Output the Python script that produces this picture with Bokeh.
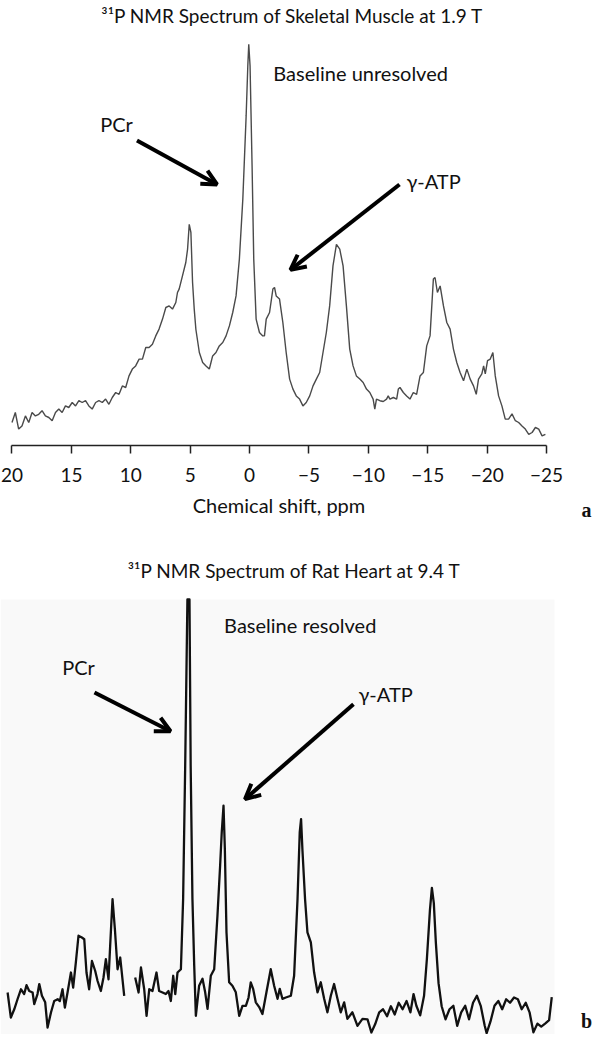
from bokeh.plotting import figure
from bokeh.models import Range1d, FixedTicker, Label, Arrow, OpenHead, LinearAxis, BoxAnnotation
from bokeh.layouts import column
from bokeh.embed import file_html
from bokeh.resources import INLINE

NAN = float("nan")

# ---------------- data: panel a (skeletal muscle, 1.9 T) ----------------
ticks_a = [20, 15, 10, 5, 0, -5, -10, -15, -20, -25]
tick_labels_a = ["20", "15", "10", "5", "0", "\u22125", "\u221210", "\u221215", "\u221220", "\u221225"]

ppm_a = [
    20.0, 19.72, 19.44, 19.16, 18.87, 18.59, 18.31, 18.03, 17.75, 17.47,
    17.19, 16.9, 16.62, 16.34, 16.06, 15.78, 15.5, 15.22, 14.93, 14.65,
    14.37, 14.09, 13.81, 13.53, 13.25, 12.96, 12.68, 12.4, 12.12, 11.84,
    11.56, 11.27, 10.99, 10.71, 10.43, 10.15, 9.87, 9.59, 9.3, 9.02,
    8.74, 8.46, 8.18, 7.9, 7.62, 7.33, 7.05, 6.77, 6.49, 6.21,
    6.07, 5.93, 5.65, 5.37, 5.22, 5.08, 4.94, 4.8, 4.66, 4.52,
    4.23, 3.95, 3.67, 3.39, 3.25, 3.11, 2.83, 2.55, 2.26, 1.98,
    1.7, 1.42, 1.14, 0.86, 0.57, 0.29, 0.15, 0.07, -0.04, -0.21,
    -0.35, -0.55, -0.83, -1.11, -1.25, -1.4, -1.68, -1.96, -2.1, -2.24,
    -2.52, -2.8, -3.08, -3.37, -3.65, -3.93, -4.21, -4.49, -4.77, -5.06,
    -5.34, -5.62, -5.9, -6.18, -6.46, -6.74, -7.02, -7.31, -7.59, -7.87,
    -8.15, -8.43, -8.71, -8.99, -9.28, -9.56, -9.84, -10.12, -10.4, -10.54,
    -10.68, -10.97, -11.25, -11.53, -11.67, -11.81, -12.1, -12.38, -12.52, -12.66,
    -12.94, -13.22, -13.5, -13.78, -14.06, -14.35, -14.63, -14.91, -15.19, -15.47,
    -15.61, -15.81, -16.04, -16.32, -16.6, -16.88, -17.16, -17.44, -17.72, -18.01,
    -18.29, -18.57, -18.85, -19.08, -19.27, -19.55, -19.7, -19.84, -20.03, -20.26,
    -20.48, -20.68, -20.96, -21.24, -21.52, -21.8, -22.09, -22.37, -22.65, -22.93,
    -23.21, -23.5, -23.78, -24.06, -24.34, -24.62, -24.9,
]
intensity_a = [
    5.75, 8.25, 4.1, 4.9, 7.4, 5.75, 8.25, 7.4, 7.8, 8.7,
    7.4, 7.0, 6.2, 8.25, 9.1, 8.25, 9.9, 9.5, 10.75, 9.9,
    11.2, 10.75, 11.2, 9.9, 9.1, 10.75, 11.2, 10.75, 11.6, 10.3,
    12.0, 13.25, 12.8, 14.9, 14.5, 17.4, 19.1, 19.9, 21.6, 21.6,
    24.5, 24.5, 25.3, 27.4, 29.1, 31.6, 34.5, 34.9, 34.1, 35.75,
    38.25, 39.1, 42.4, 45.75, 49.1, 55.3, 53.25, 40.75, 34.1, 29.0,
    23.25, 20.75, 19.9, 19.1, 20.75, 22.4, 23.25, 24.9, 25.75, 27.4,
    29.9, 33.25, 37.4, 46.6, 61.6, 82.4, 94.9, 100.3, 94.9, 69.9,
    46.6, 31.6, 28.25, 27.4, 27.4, 31.6, 33.25, 39.1, 39.5, 37.4,
    36.6, 30.75, 23.25, 16.6, 14.1, 12.4, 11.6, 9.9, 10.75, 12.4,
    14.9, 16.6, 18.25, 23.25, 28.25, 34.9, 44.9, 50.3, 49.1, 44.9,
    34.9, 24.1, 19.9, 17.4, 16.6, 15.75, 14.1, 13.25, 11.6, 9.1,
    11.6, 11.2, 11.0, 11.6, 12.4, 11.6, 12.0, 11.6, 14.1, 14.5,
    13.25, 12.4, 11.6, 13.25, 12.8, 17.4, 18.25, 24.9, 27.4, 41.6,
    42.0, 38.25, 39.9, 34.9, 30.75, 29.1, 24.1, 20.75, 18.25, 16.2,
    19.1, 16.6, 14.9, 12.8, 16.6, 17.9, 19.9, 17.9, 21.2, 21.6,
    23.25, 17.4, 12.4, 9.9, 6.6, 6.6, 7.9, 6.2, 5.75, 4.9,
    4.1, 2.8, 3.25, 4.5, 4.1, 2.4, 2.8,
]

# ---------------- data: panel b (rat heart, 9.4 T) ----------------
ppm_b = [
    12.27, 12.05, 11.82, 11.6, 11.37, 11.15, 10.99, 10.81, 10.58, 10.47,
    10.25, 10.13, 9.95, 9.73, 9.57, 9.34, 9.12, 8.89, 8.74, 8.56,
    8.4, 8.22, 7.99, 7.84, 7.66, 7.48, 7.25, 7.09, 6.94, 6.76,
    6.57, 6.35, 6.19, 5.97, 5.79, 5.63, 5.45, 5.34, 5.18, 5.02,
    4.84, 4.66, 4.39, NAN, 3.65, 3.42, 3.26, 3.04, 2.88, 2.7,
    2.48, 2.21, 2.03, 1.8, 1.58, 1.4, 1.24, 1.08, 0.94, 0.79,
    0.56, 0.41, 0.27, 0.12, -0.02, -0.1, -0.22, -0.34, -0.45, -0.67,
    -0.9, -1.08, -1.24, -1.46, -1.69, -1.91, -2.09, -2.2, -2.32, -2.41,
    -2.52, -2.7, -2.92, -3.15, -3.38, -3.6, -3.83, -4.01, -4.16, -4.32,
    -4.5, -4.73, -4.95, -5.22, -5.51, -5.74, -5.97, -6.12, -6.3, -6.53,
    -6.87, -7.09, -7.32, -7.47, -7.56, -7.65, -7.83, -7.99, -8.22, -8.44,
    -8.67, -8.89, -9.12, -9.34, -9.57, -9.79, -10.02, -10.24, -10.47, -10.69,
    -11.03, -11.37, -11.71, -12.05, -12.31, -12.57, -12.84, -13.1, -13.37, -13.63,
    -13.89, -14.16, -14.42, -14.69, -14.95, -15.16, -15.35, -15.61, -15.87, -16.06,
    -16.27, -16.4, -16.53, -16.67, -16.85, -17.06, -17.32, -17.59, -17.85, -18.11,
    -18.38, -18.65, -18.91, -19.18, -19.44, -19.7, -19.97, -20.1, -20.36, -20.63,
    -20.89, -21.15, -21.42, -21.68, -21.95, -22.21, -22.47, -22.74, -23.0, -23.26,
    -23.53, -23.79, -24.05, -24.32, -24.5,
]
intensity_b = [
    9.66, 3.9, 5.8, 8.1, 10.4, 9.3, 11.35, 10.0, 9.66, 7.0,
    9.3, 11.6, 8.9, 7.4, 1.6, 5.06, 7.7, 8.1, 7.7, 10.4,
    6.2, 9.66, 14.25, 10.8, 16.55, 22.7, 22.3, 21.9, 14.25, 10.4,
    16.9, 14.6, 12.3, 10.0, 13.1, 17.3, 12.7, 20.4, 31.1, 24.2,
    15.0, 17.7, 8.9, NAN, 13.1, 9.66, 15.4, 10.4, 4.3, 10.4,
    10.0, 14.25, 10.0, 9.66, 9.3, 10.0, 7.7, 13.5, 9.3, 14.25,
    15.0, 31.1, 61.8, 100.0, 100.0, 61.8, 31.1, 15.8, 4.3, 11.2,
    12.8, 9.7, 5.9, 13.5, 15.0, 27.3, 38.8, 46.5, 52.6, 42.6,
    23.5, 12.0, 11.2, 9.7, 4.3, 6.6, 6.6, 8.5, 12.0, 10.5,
    7.4, 6.3, 4.7, 9.7, 15.0, 11.2, 8.2, 10.5, 8.2, 8.5,
    8.9, 13.5, 31.1, 46.5, 49.5, 42.6, 31.1, 23.5, 21.2, 14.3,
    9.7, 12.0, 8.2, 5.1, 8.9, 11.6, 8.2, 5.1, 7.4, 3.6,
    5.1, 2.0, 3.6, 3.5, 0.46, 2.4, 5.1, 5.8, 4.2, 6.5,
    4.6, 7.3, 5.8, 7.7, 5.1, 9.3, 6.6, 4.4, 8.9, 17.3,
    28.7, 33.7, 30.2, 21.0, 11.8, 6.5, 3.5, 5.8, 6.6, 2.0,
    5.1, 6.6, 3.5, 7.3, 8.9, 6.6, 2.0, 0.3, 3.0, 6.6,
    7.7, 5.8, 8.1, 7.3, 8.5, 8.1, 5.8, 7.3, 5.1, 0.5,
    2.5, 1.8, 2.5, 3.3, 8.6,
]

FONT = "Lato"
SERIF = "Liberation Serif"


def lab(p, x, y, text, align="center", font=FONT, size="20px", style="normal"):
    p.add_layout(Label(x=x, y=y, text=text, text_align=align, text_baseline="middle",
                       text_font=font, text_font_size=size, text_font_style=style,
                       text_color="#111111"))


def arrow(p, x0, y0, x1, y1):
    p.add_layout(Arrow(end=OpenHead(size=15, line_width=4, line_color="black"),
                       x_start=x0, y_start=y0, x_end=x1, y_end=y1,
                       line_width=4, line_color="black"))


# ---------------- panel a ----------------
p1 = figure(width=593, height=537, output_backend="svg", toolbar_location=None,
            x_range=Range1d(20.968, -28.95), y_range=Range1d(-23.0, 111.25),
            x_axis_location=None, y_axis_location=None, min_border=0)
p1.outline_line_color = None
p1.grid.visible = False
p1.line(ppm_a, intensity_a, line_color="#4a4a4a", line_width=1.4)

ax = LinearAxis(fixed_location=0, bounds=(-25, 20))
ax.ticker = FixedTicker(ticks=ticks_a)
ax.major_label_overrides = {float(t): s for t, s in zip(ticks_a, tick_labels_a)}
ax.axis_line_color = "#222222"
ax.axis_line_width = 1.5
ax.major_tick_line_color = "#222222"
ax.major_tick_line_width = 1.5
ax.major_tick_in = 0
ax.major_tick_out = 8
ax.minor_tick_out = 0
ax.minor_tick_in = 0
ax.major_label_standoff = 14
ax.major_label_text_font = FONT
ax.major_label_text_font_size = "19px"
ax.major_label_text_color = "#111111"
ax.axis_label = "Chemical shift, ppm"
ax.axis_label_text_font = FONT
ax.axis_label_text_font_size = "20px"
ax.axis_label_text_font_style = "normal"
ax.axis_label_text_color = "#111111"
ax.axis_label_standoff = 8
p1.add_layout(ax, "below")

lab(p1, -3.61, 107.5, "\u00b3\u00b9P NMR Spectrum of Skeletal Muscle at 1.9 T", size="19px")
lab(p1, -2.0, 93.25, "Baseline unresolved", align="left")
lab(p1, 11.2, 80.5, "PCr")
lab(p1, -13.2, 66.25, "\u03b3-ATP", align="left")
lab(p1, -28.36, -16.0, "a", font=SERIF, size="20px", style="bold")

arrow(p1, 9.48, 76.25, 2.74, 65.25)
arrow(p1, -12.62, 65.25, -3.44, 43.9)

# ---------------- panel b ----------------
p2 = figure(width=593, height=497, output_backend="svg", toolbar_location=None,
            x_range=Range1d(12.75, -27.32), y_range=Range1d(0, 114.25),
            x_axis_location=None, y_axis_location=None, min_border=0)
p2.outline_line_color = None
p2.grid.visible = False
p2.add_layout(BoxAnnotation(left=12.75, right=-24.68, bottom=0, top=100,
                            fill_color="#f9f9f9", fill_alpha=1.0, line_color=None,
                            level="underlay"))
p2.line(ppm_b, intensity_b, line_color="#111111", line_width=2.3, line_join="round")

lab(p2, -7.11, 106.7, "\u00b3\u00b9P NMR Spectrum of Rat Heart at 9.4 T", size="19px")
lab(p2, -2.36, 94.25, "Baseline resolved", align="left")
lab(p2, 7.48, 84.5, "PCr")
lab(p2, -11.44, 78.2, "\u03b3-ATP", align="left")
lab(p2, -26.85, 3.2, "b", font=SERIF, size="20px", style="bold")

arrow(p2, 6.4, 78.6, 1.26, 69.7)
arrow(p2, -11.1, 75.9, -3.77, 54.1)

layout = column(p1, p2, spacing=0)
open("out.html", "w").write(file_html(layout, INLINE))
